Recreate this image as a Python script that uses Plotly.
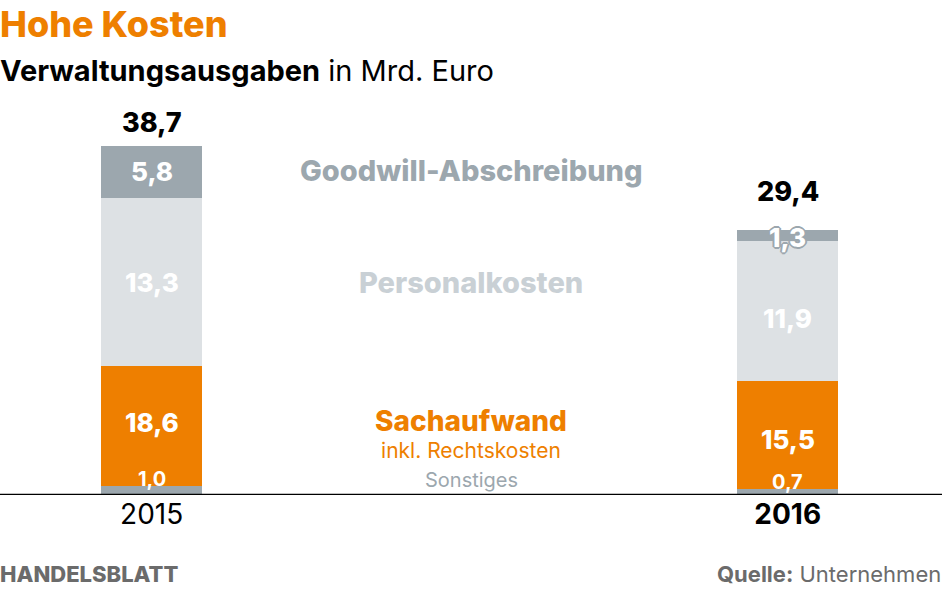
import plotly.graph_objects as go

# Daten (Mrd. Euro) – Segmenthöhen wie im Original gezeichnet
jahre = ["2015", "2016"]
sonstiges = [1.0, 0.7]
sachaufwand = [13.3, 11.9]
personal = [18.6, 15.5]
goodwill = [5.8, 1.3]

# Beschriftungen wie im Original
summen_text = ["38,7", "29,4"]
sonstiges_text = ["1,0", "0,7"]
sach_text = ["18,6", "15,5"]
personal_text = ["13,3", "11,9"]
goodwill_text = ["5,8", "1,3"]

ORANGE = "#ee7f00"
GRAU_D = "#9ca7ae"
GRAU_H = "#dde1e4"
FONT = "Inter, Lato, sans-serif"

fig = go.Figure()
for name, werte, farbe in [("Sonstiges", sonstiges, GRAU_D),
                           ("Sachaufwand", sachaufwand, ORANGE),
                           ("Personalkosten", personal, GRAU_H),
                           ("Goodwill-Abschreibung", goodwill, GRAU_D)]:
    fig.add_trace(go.Bar(x=jahre, y=werte, name=name, marker_color=farbe,
                         marker_line_width=0, width=0.159, hoverinfo="skip"))

# Plotbereich: y=0 bei Pixel 495, Höhe 361
def py(pixel):
    return (495 - pixel) / 361

ann = []
for i, j in enumerate(jahre):
    b1 = sonstiges[i]
    b2 = b1 + sachaufwand[i]
    b3 = b2 + personal[i]
    b4 = b3 + goodwill[i]
    weiss = dict(family=FONT, size=26, color="white", weight=800)
    ann.append(dict(x=i, y=b1, text=sonstiges_text[i], yanchor="bottom",
                    yshift=-7, font=dict(family=FONT, size=20, color="white", weight=700)))
    ann.append(dict(x=i, y=b1 + sachaufwand[i] / 2, text=sach_text[i],
                    yshift=[3, -5][i], font=weiss))
    ann.append(dict(x=i, y=b2 + personal[i] / 2, text=personal_text[i], font=weiss,
                    yshift=[0, -7][i]))
    gw_font = dict(weiss)
    if goodwill[i] < 2:
        gw_font["shadow"] = ("2px 0 0 #9ca7ae, -2px 0 0 #9ca7ae, 0 2px 0 #9ca7ae, "
                             "0 -2px 0 #9ca7ae, 1px 1px 0 #9ca7ae, -1px -1px 0 #9ca7ae, "
                             "1px -1px 0 #9ca7ae, -1px 1px 0 #9ca7ae")
    ann.append(dict(x=i, y=b3 + goodwill[i] / 2, text=goodwill_text[i],
                    font=gw_font, yshift=[0, -2][i]))
    ann.append(dict(x=i, y=b4, text=summen_text[i], yanchor="bottom",
                    yshift=[5, 20][i], font=dict(family=FONT, size=27, color="black", weight=800)))

# Legende mittig, an den Segmenten von 2015 ausgerichtet
mitte = [
    ("Goodwill-Abschreibung", sonstiges[0] + sachaufwand[0] + personal[0] + goodwill[0] / 2, 1, 29, GRAU_D, 800),
    ("Personalkosten", sonstiges[0] + sachaufwand[0] + personal[0] / 2, 0, 29, "#c9d0d5", 800),
    ("<span style='font-size:28px;font-weight:800'>Sachaufwand</span><br>inkl. Rechtskosten",
     sonstiges[0] + sachaufwand[0] / 2, -8, 21, ORANGE, 400),
    ("Sonstiges", sonstiges[0], 6, 20, GRAU_D, 400),
]
for t, y, ys, s, c, w in mitte:
    ann.append(dict(x=0.5, xref="paper", y=y, text=t, yshift=ys,
                    font=dict(family=FONT, size=s, color=c, weight=w)))

# Titel und Fußzeile
kopf = dict(xref="paper", yref="paper", yanchor="middle")
ann.append(dict(x=0, y=py(24), xanchor="left", xshift=-2, text="Hohe Kosten",
                font=dict(family=FONT, size=36, color=ORANGE, weight=800), **kopf))
ann.append(dict(x=0, y=py(71), xanchor="left", xshift=-2,
                text="<b>Verwaltungsausgaben</b> in Mrd. Euro",
                font=dict(family=FONT, size=29, color="black"), **kopf))
ann.append(dict(x=0, y=py(574), xanchor="left", xshift=-2, text="HANDELSBLATT",
                font=dict(family=FONT, size=22, color="#6b6b6b", weight=800), **kopf))
ann.append(dict(x=1, y=py(574), xanchor="right", xshift=1,
                text="<b>Quelle:</b> Unternehmen", font=dict(family=FONT, size=22, color="#6b6b6b"), **kopf))

for a in ann:
    a.setdefault("showarrow", False)

fig.update_layout(
    width=942, height=589,
    margin=dict(l=0, r=0, t=134, b=94, pad=0),
    barmode="stack", showlegend=False,
    paper_bgcolor="white", plot_bgcolor="white",
    font=dict(family=FONT),
    annotations=ann,
    xaxis=dict(type="category", range=[-0.2385, 1.2426], showgrid=False, zeroline=False,
               showline=False, ticks="", tickvals=jahre, ticktext=["2015", "<b>2016</b>"],
               tickfont=dict(family=FONT, size=28, color="black")),
    yaxis=dict(range=[0, 40], visible=False, fixedrange=True),
    shapes=[dict(type="line", xref="paper", yref="y", x0=0, x1=1, y0=0, y1=0,
                 line=dict(color="black", width=2.5), layer="above")],
)

# Seitenrand des Browsers entfernen, damit die Grafik bei 0,0 beginnt
fig.write_html("out.html", config={"displayModeBar": False},
               post_script="document.body.style.margin='0';")
